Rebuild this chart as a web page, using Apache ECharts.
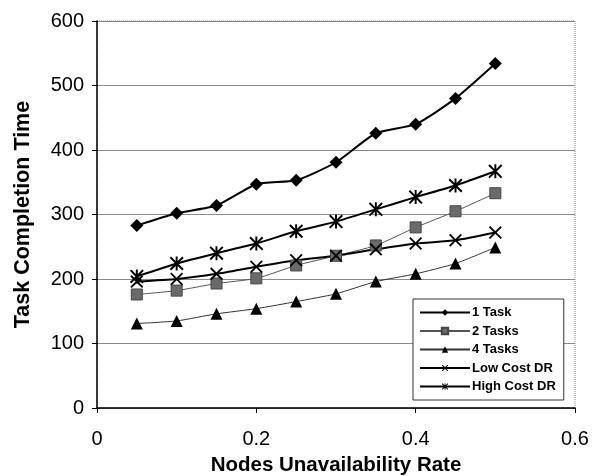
<!DOCTYPE html>
<html>
<head>
<meta charset="utf-8">
<script src="https://cdn.jsdelivr.net/npm/echarts@6/dist/echarts.min.js"></script>
<style>
  html, body { margin: 0; padding: 0; background: #fff; }
  #chart { width: 592px; height: 476px; }
</style>
</head>
<body>
<div id="chart"></div>
<script>
// 数据
var rates = [0.05, 0.1, 0.15, 0.2, 0.25, 0.3, 0.35, 0.4, 0.45, 0.5];
var oneTask = [283, 302, 314, 347, 353, 381, 426, 440, 480, 534];
var twoTasks = [176, 182, 193, 201, 221, 236, 252, 280, 305, 333];
var fourTasks = [131, 135, 146, 154, 165, 177, 196, 208, 224, 249];
var lowCostDR = [196, 200, 208, 219, 229, 236, 246, 255, 260, 272];
var highCostDR = [204, 224, 240, 255, 274, 289, 308, 327, 345, 367];
var seriesNames = ['1 Task', '2 Tasks', '4 Tasks', 'Low Cost DR', 'High Cost DR'];

// X 和 星号 标记
var xPath = 'path://M0,1 L1,0 L5,4 L9,0 L10,1 L6,5 L10,9 L9,10 L5,6 L1,10 L0,9 L4,5 Z';
var starPath = 'path://M0,1 L1,0 L5,4 L9,0 L10,1 L6,5 L10,9 L9,10 L5,6 L1,10 L0,9 L4,5 Z M4.3,0 L5.7,0 L5.7,10 L4.3,10 Z';

function pairs(arr) {
  return rates.map(function (r, i) { return [r, arr[i]]; });
}

var chart = echarts.init(document.getElementById('chart'));

var option = {
  animation: false,
  backgroundColor: '#fff',
  textStyle: { fontFamily: 'Liberation Sans, Arial, sans-serif' },
  grid: {
    left: 97, right: 17, top: 21, bottom: 68,
    outerBoundsMode: 'none',
    containLabel: false,
    show: true, borderColor: '#888', borderWidth: 1, borderType: 'dotted'
  },
  legend: {
    orient: 'vertical',
    left: 413, top: 299,
    padding: [7, 8, 7, 6],
    itemWidth: 50, itemHeight: 8, itemGap: 5.5,
    borderColor: '#333', borderWidth: 1,
    backgroundColor: '#fff',
    textStyle: { fontSize: 13, fontWeight: 'bold', color: '#000', padding: [0, 0, 0, -3] },
    data: seriesNames
  },
  xAxis: {
    type: 'value',
    min: 0, max: 0.6, interval: 0.2,
    name: 'Nodes Unavailability Rate',
    nameLocation: 'middle',
    nameGap: 47,
    nameTextStyle: { fontSize: 20.5, fontWeight: 'bold', color: '#000' },
    axisLine: { lineStyle: { color: '#000', width: 1.5 } },
    axisTick: { show: true, length: 5, lineStyle: { color: '#000' } },
    axisLabel: { fontSize: 20, color: '#000', margin: 21, formatter: function (v) { return String(Math.round(v * 10) / 10); } },
    splitLine: { show: false }
  },
  yAxis: {
    type: 'value',
    min: 0, max: 600, interval: 100,
    name: 'Task Completion Time',
    nameLocation: 'middle',
    nameGap: 63,
    nameTextStyle: { fontSize: 21.5, fontWeight: 'bold', color: '#000' },
    axisLine: { show: true, lineStyle: { color: '#000', width: 1.5 } },
    axisTick: { show: true, length: 5, lineStyle: { color: '#000' } },
    axisLabel: { fontSize: 20, color: '#000', margin: 13 },
    splitLine: { show: true, lineStyle: { color: '#8a8a8a', width: 1 } }
  },
  series: [
    {
      name: '1 Task', type: 'line', data: pairs(oneTask), smooth: 0.2,
      symbol: 'diamond', symbolSize: 13,
      itemStyle: { color: '#000' },
      lineStyle: { color: '#000', width: 2 }
    },
    {
      name: '2 Tasks', type: 'line', data: pairs(twoTasks), smooth: 0.2,
      symbol: 'rect', symbolSize: 11,
      itemStyle: { color: '#6a6a6a', borderColor: '#444', borderWidth: 1 },
      lineStyle: { color: '#555', width: 1 }
    },
    {
      name: '4 Tasks', type: 'line', data: pairs(fourTasks), smooth: 0.2,
      symbol: 'triangle', symbolSize: 12,
      itemStyle: { color: '#000' },
      lineStyle: { color: '#333', width: 1 }
    },
    {
      name: 'Low Cost DR', type: 'line', data: pairs(lowCostDR), smooth: 0.2,
      symbol: xPath, symbolSize: 13,
      itemStyle: { color: '#000' },
      lineStyle: { color: '#000', width: 2 }
    },
    {
      name: 'High Cost DR', type: 'line', data: pairs(highCostDR), smooth: 0.2,
      symbol: starPath, symbolSize: 14,
      itemStyle: { color: '#000' },
      lineStyle: { color: '#000', width: 2 }
    }
  ]
};

chart.setOption(option);
</script>
</body>
</html>
